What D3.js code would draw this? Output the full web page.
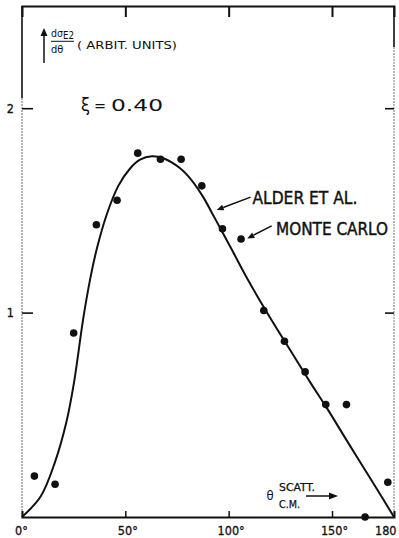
<!DOCTYPE html>
<html>
<head>
<meta charset="utf-8">
<script src="https://cdn.jsdelivr.net/npm/d3@7/dist/d3.min.js"></script>
<style>
  html, body { margin: 0; padding: 0; background: #fff; }
  svg { display: block; }
  text { fill: #111; font-family: "DejaVu Sans Condensed", "Liberation Sans Narrow", "Liberation Sans", "DejaVu Sans", sans-serif; }
</style>
</head>
<body>
<svg id="chart" width="399" height="538"></svg>
<script>
// E2 angular distribution, xi = 0.40
const xTicks = [0, 50, 100, 150, 180];
const xTickLabels = ["0\u00B0", "50\u00B0", "100\u00B0", "150\u00B0", "180"];
const yTicks = [1, 2];
const yTickLabels = ["1", "2"];

// Monte Carlo histogram points (theta c.m. in degrees, arbitrary units)
const mcTheta = [6, 16, 25, 36, 46, 56, 67, 77, 87, 97, 106, 117, 127, 137, 147, 157, 166, 177];
const mcValue = [0.20, 0.16, 0.90, 1.43, 1.55, 1.78, 1.75, 1.75, 1.62, 1.41, 1.36, 1.01, 0.86, 0.71, 0.55, 0.55, 0.00, 0.17];

// Alder et al. calculated curve
const alderTheta = [0, 9, 16, 21.6, 25.2, 29.7, 33, 36.2, 41, 46.6, 52.3, 57.1, 62.8, 68.4, 76.5, 82.3, 87.7, 92.6, 96.6, 102.2, 108.7, 116.8, 124, 130.5, 139.4, 147.4, 157.1, 170, 180];
const alderValue = [0, 0.10, 0.27, 0.47, 0.66, 0.975, 1.165, 1.312, 1.48, 1.62, 1.705, 1.748, 1.765, 1.755, 1.706, 1.645, 1.565, 1.475, 1.40, 1.295, 1.172, 1.03, 0.91, 0.805, 0.66, 0.535, 0.375, 0.165, 0];

const svg = d3.select("#chart");
const x = d3.scaleLinear().domain([0, 180]).range([22, 394]);
const y = d3.scaleLinear().domain([0, 2.5]).range([517, 6]);

// frame: side borders are lighter than top and bottom
const frame = svg.append("g");
frame.append("line").attr("x1", x(0)).attr("x2", x(0)).attr("y1", y(2.5)).attr("y2", y(2.05))
  .attr("stroke", "#111").attr("stroke-width", 1.6);
frame.append("line").attr("x1", x(0)).attr("x2", x(0)).attr("y1", y(2.05)).attr("y2", y(0))
  .attr("stroke", "#777").attr("stroke-width", 1.1).attr("stroke-dasharray", "2,1");
frame.append("line").attr("x1", x(180)).attr("x2", x(180)).attr("y1", y(2.5)).attr("y2", y(2.3))
  .attr("stroke", "#111").attr("stroke-width", 1.6);
frame.append("line").attr("x1", x(180)).attr("x2", x(180)).attr("y1", y(2.3)).attr("y2", y(0))
  .attr("stroke", "#888").attr("stroke-width", 1.1).attr("stroke-dasharray", "2,1");

// bottom axis with inward ticks and labels
const axisB = svg.append("g").attr("transform", `translate(0,${y(0)})`)
  .call(d3.axisBottom(x).tickValues(xTicks).tickSize(-6).tickPadding(10)
    .tickFormat((d, i) => xTickLabels[i]));
axisB.select(".domain").attr("stroke", "#111").attr("stroke-width", 2);
axisB.selectAll(".tick line").attr("stroke", "#111").attr("stroke-width", 1.5)
  .filter(d => d === 0 || d === 180).remove();
axisB.selectAll(".tick text").attr("font-size", 12.5).attr("fill", "#111")
  .attr("stroke", "#111").attr("stroke-width", 0.3)
  .attr("font-family", "'DejaVu Sans Condensed', 'Liberation Sans', sans-serif")
  .attr("dy", 0).attr("y", 18)
  .attr("dx", d => d === 0 ? -1 : d === 180 ? 0 : 2)
  .attr("text-anchor", d => d === 180 ? "end" : "middle")
  .attr("x", d => d === 180 ? 2 : 0);

// top axis, ticks only
const axisT = svg.append("g").attr("transform", `translate(0,${y(2.5)})`)
  .call(d3.axisTop(x).tickValues([50, 100, 150]).tickSize(-11).tickFormat(""));
axisT.select(".domain").attr("stroke", "#111").attr("stroke-width", 2);
axisT.selectAll(".tick line").attr("stroke", "#111").attr("stroke-width", 2);

// left axis ticks + labels
const axisL = svg.append("g").attr("transform", `translate(${x(0)},0)`)
  .call(d3.axisLeft(y).tickValues(yTicks).tickSize(-11).tickPadding(8)
    .tickFormat((d, i) => yTickLabels[i]));
axisL.select(".domain").remove();
axisL.selectAll(".tick line").attr("stroke", "#111").attr("stroke-width", 1.6);
axisL.selectAll(".tick text").attr("font-size", 12.5).attr("fill", "#111")
  .attr("stroke", "#111").attr("stroke-width", 0.3)
  .attr("font-family", "'DejaVu Sans', sans-serif");

// right axis ticks
const axisR = svg.append("g").attr("transform", `translate(${x(180)},0)`)
  .call(d3.axisRight(y).tickValues(yTicks).tickSize(-9).tickFormat(""));
axisR.select(".domain").remove();
axisR.selectAll(".tick line").attr("stroke", "#111").attr("stroke-width", 1.6);

// Alder et al. curve
const line = d3.line()
  .x((d, i) => x(alderTheta[i]))
  .y((d, i) => y(alderValue[i]))
  .curve(d3.curveCatmullRom.alpha(0.5));
svg.append("path").datum(alderValue).attr("d", line)
  .attr("fill", "none").attr("stroke", "#111").attr("stroke-width", 2).attr("stroke-linejoin", "round");

// Monte Carlo points
svg.append("g").selectAll("circle").data(mcValue).join("circle")
  .attr("cx", (d, i) => x(mcTheta[i])).attr("cy", d => y(d)).attr("r", 3.8)
  .attr("fill", "#111");

// arrow helper (filled triangular head at the tip)
function arrow(x1, y1, x2, y2, len, half, width) {
  const a = Math.atan2(y2 - y1, x2 - x1);
  const bx = x2 - len * Math.cos(a), by = y2 - len * Math.sin(a);
  svg.append("line").attr("x1", x1).attr("y1", y1).attr("x2", bx).attr("y2", by)
    .attr("stroke", "#111").attr("stroke-width", width);
  const px = -Math.sin(a) * half, py = Math.cos(a) * half;
  svg.append("path")
    .attr("d", `M${x2},${y2}L${bx + px},${by + py}L${bx - px},${by - py}Z`)
    .attr("fill", "#111");
}

// curve labels
svg.append("text").attr("x", x(111.5)).attr("y", y(1.531)).attr("font-size", 17.5)
  .attr("stroke", "#111").attr("stroke-width", 0.4)
  .attr("textLength", 105).attr("lengthAdjust", "spacingAndGlyphs").text("ALDER ET AL.");
arrow(x(110.6), y(1.565), x(94.2), y(1.502), 7, 3, 1.5);
svg.append("text").attr("x", x(122.9)).attr("y", y(1.38)).attr("font-size", 17)
  .attr("stroke", "#111").attr("stroke-width", 0.4)
  .attr("textLength", 112).attr("lengthAdjust", "spacingAndGlyphs").text("MONTE CARLO");
arrow(x(120.8), y(1.424), x(109.0), y(1.363), 7, 3, 1.5);

// y-axis title
arrow(44, 63, 44, 28, 8, 3.5, 1.5);
svg.append("text").attr("x", 51).attr("y", 36.5).attr("font-size", 10.5).text("d\u03C3");
svg.append("text").attr("x", 63).attr("y", 38.7).attr("font-size", 10.5)
  .attr("textLength", 11).attr("lengthAdjust", "spacingAndGlyphs").text("E2");
svg.append("line").attr("x1", 51).attr("x2", 74).attr("y1", 41.3).attr("y2", 41.3)
  .attr("stroke", "#111").attr("stroke-width", 1);
svg.append("text").attr("x", 51).attr("y", 53).attr("font-size", 11).text("d\u03B8");
svg.append("text").attr("x", 77).attr("y", 48.7).attr("font-size", 11)
  .attr("textLength", 100).attr("lengthAdjust", "spacingAndGlyphs").text("( ARBIT. UNITS)");

// parameter label
svg.append("text").attr("x", 81).attr("y", 111).attr("font-size", 18)
  .attr("font-family", "'DejaVu Sans', sans-serif").text("\u03BE");
svg.append("text").attr("x", 94).attr("y", 111).attr("font-size", 16)
  .attr("font-family", "'DejaVu Sans', sans-serif").text("=");
svg.append("text").attr("x", 111).attr("y", 111).attr("font-size", 16)
  .attr("font-family", "'DejaVu Sans', sans-serif")
  .attr("textLength", 52).attr("lengthAdjust", "spacingAndGlyphs").text("0.40");

// x-axis title
svg.append("text").attr("x", 266.5).attr("y", 499.5).attr("font-size", 13)
  .attr("font-family", "'DejaVu Sans', sans-serif").text("\u03B8");
svg.append("text").attr("x", 279).attr("y", 490.7).attr("font-size", 10.5)
  .attr("stroke", "#111").attr("stroke-width", 0.25)
  .attr("textLength", 36).attr("lengthAdjust", "spacingAndGlyphs").text("SCATT.");
svg.append("text").attr("x", 279).attr("y", 508.3).attr("font-size", 10.5)
  .attr("stroke", "#111").attr("stroke-width", 0.25)
  .attr("textLength", 21).attr("lengthAdjust", "spacingAndGlyphs").text("C.M.");
arrow(306, 496, 338, 496, 9, 3.5, 1.5);
</script>
</body>
</html>
